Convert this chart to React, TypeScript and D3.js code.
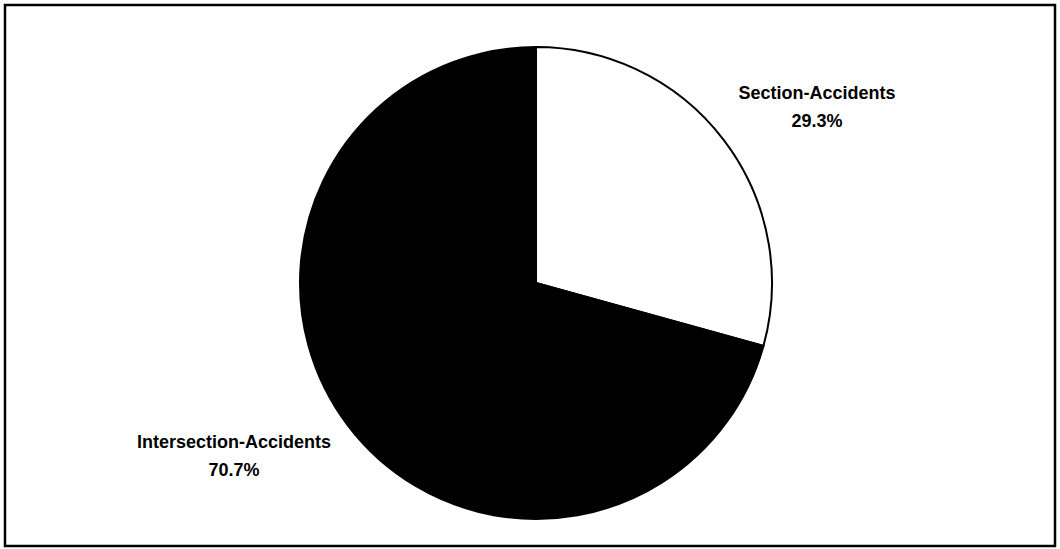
import * as React from 'react';
import { useEffect, useRef } from 'react';
import * as d3 from 'd3';

const categories = ['Section-Accidents', 'Intersection-Accidents'];
const shares = [29.3, 70.7];
const sliceColors = ['#ffffff', '#000000'];

const WIDTH = 1060;
const HEIGHT = 549;

interface Slice {
  name: string;
  value: number;
}

const data: Slice[] = categories.map((name, i) => ({ name, value: shares[i] }));

export default function App() {
  const ref = useRef<SVGSVGElement>(null);

  useEffect(() => {
    const svg = d3.select(ref.current);
    svg.selectAll('*').remove();

    // chart frame
    svg.append('rect')
      .attr('x', 5).attr('y', 5)
      .attr('width', 1050).attr('height', 541)
      .attr('fill', '#fff')
      .attr('stroke', '#000')
      .attr('stroke-width', 2.5);

    const cx = 536;
    const cy = 283;
    const radius = 236;

    const g = svg.append('g').attr('transform', `translate(${cx},${cy})`);

    const pie = d3.pie<Slice>().sort(null).value((d) => d.value);
    const arc = d3.arc<d3.PieArcDatum<Slice>>().innerRadius(0).outerRadius(radius);

    g.selectAll('path')
      .data(pie(data))
      .enter().append('path')
      .attr('d', arc)
      .attr('fill', (d, i) => sliceColors[i])
      .attr('stroke', '#000')
      .attr('stroke-width', 2);

    // labels sit outside the pie
    const labelPos = [
      { x: 817, y: 99 },
      { x: 234, y: 448 },
    ];

    const fmt = d3.format('.1f');

    data.forEach((d, i) => {
      const t = svg.append('text')
        .attr('x', labelPos[i].x)
        .attr('y', labelPos[i].y)
        .attr('text-anchor', 'middle')
        .attr('font-family', '"Liberation Sans", Arial, sans-serif')
        .attr('font-size', 18)
        .attr('font-weight', 'bold')
        .attr('fill', '#000');
      t.append('tspan').attr('x', labelPos[i].x).text(d.name);
      t.append('tspan').attr('x', labelPos[i].x).attr('dy', 28).text(fmt(d.value) + '%');
    });
  }, []);

  return (
    <svg
      ref={ref}
      width={WIDTH}
      height={HEIGHT}
      style={{ position: 'absolute', left: 0, top: 0, background: '#fff' }}
    />
  );
}
